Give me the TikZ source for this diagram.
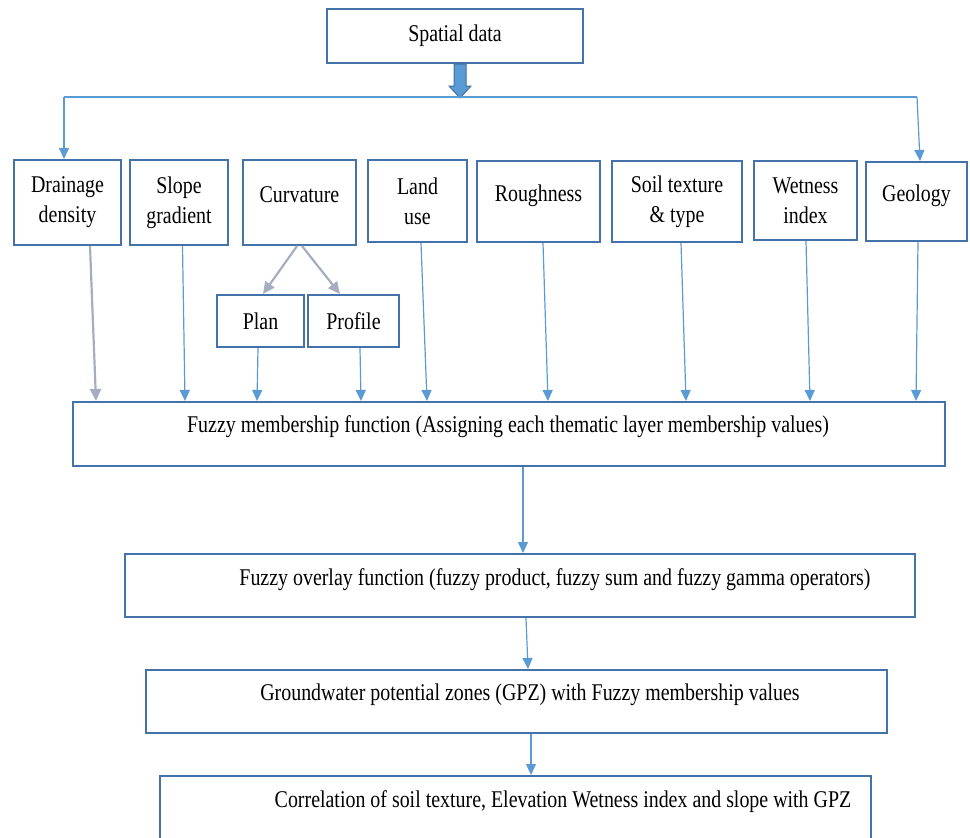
\documentclass[tikz,border=0pt]{standalone}
\usepackage{fontspec}
\setmainfont{Liberation Serif}[FakeStretch=0.83]
\usetikzlibrary{arrows.meta}
\definecolor{boxblue}{RGB}{68,114,170}
\definecolor{lineblue}{RGB}{91,155,213}
\definecolor{tipgray}{RGB}{165,174,192}
\definecolor{blockedge}{RGB}{65,113,156}

\begin{document}
\begin{tikzpicture}[x=1pt, y=-1pt,
  every node/.style={font=\fontsize{24}{30}\selectfont},
  box/.style={draw=boxblue, line width=2pt, inner sep=0pt, align=center},
  oneline/.style={text height=16pt, text depth=16pt},
  conn/.style={draw=lineblue, line width=1.2pt, -{Triangle[length=11pt,width=10pt]}},
  grayconn/.style={draw=tipgray, line width=2.2pt, -{Triangle[length=12pt,width=11pt]}},
  blockarrow/.style={fill=lineblue, draw=blockedge, line width=1pt}]
  \clip (0,0) rectangle (970,838);
  \node[box, minimum width=256, minimum height=54] (spatial) at (455,36) {Spatial data};

  \node[box, minimum width=107, minimum height=85] (drain) at (67.5,202.5) {Drainage\\density};
  \node[box, minimum width=98, minimum height=85] (slope) at (179,202.5) {Slope\\gradient};
  \node[box, oneline, minimum width=113, minimum height=85] (curv) at (299.5,202.5) {Curvature};
  \node[box, minimum width=99, minimum height=82] (land) at (417.5,201) {Land\\use};
  \node[box, oneline, minimum width=123, minimum height=81] (rough) at (538.5,201.5) {Roughness};
  \node[box, minimum width=130, minimum height=81] (soil) at (677,201.5) {Soil texture\\\& type};
  \node[box, minimum width=103, minimum height=79] (wet) at (805.5,200.5) {Wetness\\index};
  \node[box, oneline, minimum width=101, minimum height=79] (geo) at (916.5,201.5) {Geology};
  \node[box, minimum width=87, minimum height=52] (plan) at (260.5,321) {Plan};
  \node[box, minimum width=91, minimum height=52] (profile) at (353.5,321) {Profile};

  \node[box, minimum width=872, minimum height=64] (memb) at (509,434) {};
  \node (memb-t) at (508,427) {Fuzzy membership function (Assigning each thematic layer membership values)};
  \node[box, minimum width=790, minimum height=63] (overlay) at (520,585.5) {};
  \node (overlay-t) at (555,580) {Fuzzy overlay function (fuzzy product, fuzzy sum and fuzzy gamma operators)};
  \node[box, minimum width=741, minimum height=63] (gpz) at (516.5,701.5) {};
  \node (gpz-t) at (530,695) {Groundwater potential zones (GPZ) with Fuzzy membership values};
  \node[box, minimum width=711, minimum height=84] (corr) at (515.5,818) {};
  \node (corr-t) at (563,802) {Correlation of soil texture, Elevation Wetness index and slope with GPZ};

  \coordinate (tail) at ([xshift=5]spatial.south);
  \filldraw[blockarrow] ([xshift=-6]tail) -- ++(0,22) -- ++(-5,0) -- ++(11,12) -- ++(11,-12) -- ++(-5,0) -- ++(0,-22) -- cycle;
  \coordinate (busL) at (64,97);
  \coordinate (busR) at (917,97);
  \draw[lineblue, line width=1.2pt] (busL) -- (busR);
  \draw[conn] (busL) -- ([xshift=-3.5]drain.north);
  \draw[conn] (busR) -- ([xshift=3.5]geo.north);

  \draw[grayconn] ([xshift=-2.5]curv.south) -- ([xshift=2.5]plan.north);
  \draw[grayconn] ([xshift=2.5]curv.south) -- ([xshift=-13.5]profile.north);

  \draw[grayconn] ([xshift=22.5]drain.south) -- ([xshift=24]memb.north west);
  \draw[conn] ([xshift=3.5]slope.south) -- ([xshift=113]memb.north west);
  \draw[conn] ([xshift=-2.5]plan.south) -- ([xshift=185]memb.north west);
  \draw[conn] ([xshift=6.5]profile.south) -- ([xshift=289]memb.north west);
  \draw[conn] ([xshift=3.5]land.south) -- ([xshift=355]memb.north west);
  \draw[conn] ([xshift=4.5]rough.south) -- ([xshift=476]memb.north west);
  \draw[conn] ([xshift=4]soil.south) -- ([xshift=614]memb.north west);
  \draw[conn] ([xshift=0.5]wet.south) -- ([xshift=738]memb.north west);
  \draw[conn] ([xshift=1.5]geo.south) -- ([xshift=844]memb.north west);

  \draw[conn] ([xshift=14]memb.south) -- ([xshift=3]overlay.north);
  \draw[conn] ([xshift=6]overlay.south) -- ([xshift=11.5]gpz.north);
  \draw[conn] ([xshift=14.5]gpz.south) -- ([xshift=15.5]corr.north);
\end{tikzpicture}
\end{document}
